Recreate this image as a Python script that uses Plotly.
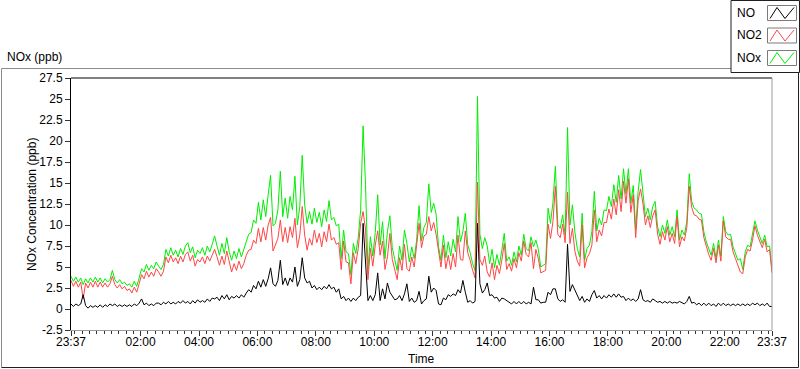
import pandas as pd
import plotly.graph_objects as go

# ---- data: 5-minute readings starting 23:37, one row per hour ----
nox = [
    3.9, 3.3, 3.8, 3.2, 3.7, 2.9, 3.6, 3.1, 3.7, 3.2, 3.8, 3.2,
    3.7, 3.1, 3.6, 3.2, 3.5, 4.6, 3.5, 3.1, 3.5, 3.0, 3.2, 2.8,
    3.0, 2.6, 3.3, 2.7, 3.7, 4.8, 4.4, 5.3, 4.6, 5.2, 4.8, 5.6,
    5.1, 4.7, 5.3, 7.1, 6.3, 7.3, 6.4, 7.0, 6.2, 7.2, 6.5, 7.5,
    7.9, 6.7, 7.4, 6.1, 7.0, 6.6, 7.3, 6.4, 7.5, 6.8, 7.7, 8.7,
    7.5, 6.4, 7.8, 6.6, 8.5, 6.8, 5.8, 6.9, 6.0, 7.2, 6.2, 7.0,
    8.0, 8.9, 9.1, 10.6, 10.2, 12.7, 10.6, 13.0, 11.0, 13.6, 15.9, 9.9,
    10.2, 11.8, 16.4, 11.0, 13.2, 10.8, 13.4, 11.8, 15.8, 10.0, 12.2, 18.3,
    12.4, 10.2, 11.6, 10.1, 12.0, 10.3, 11.5, 9.8, 11.8, 10.4, 12.9, 10.6,
    10.9, 9.9, 10.1, 6.0, 9.4, 6.8, 6.6, 4.1, 7.8, 6.6, 8.5, 11.8,
    21.8, 14.8, 4.7, 8.6, 6.3, 9.1, 13.6, 7.6, 10.4, 6.0, 9.2, 11.1,
    7.3, 5.9, 4.6, 7.5, 5.8, 9.4, 7.8, 5.6, 7.4, 6.0, 8.2, 12.3,
    8.1, 9.7, 10.3, 14.9, 11.5, 12.6, 11.3, 7.4, 5.8, 8.8, 6.1, 8.0,
    6.3, 8.3, 6.8, 11.0, 8.0, 9.2, 11.4, 7.6, 6.7, 5.4, 4.6, 25.3,
    8.9, 7.2, 8.5, 7.5, 5.4, 7.1, 4.9, 6.5, 5.2, 7.0, 9.0, 5.7,
    6.2, 5.2, 6.8, 5.6, 7.5, 6.4, 8.9, 7.2, 6.9, 8.6, 7.4, 8.2,
    7.1, 5.0, 5.2, 5.4, 12.0, 10.2, 12.7, 17.0, 10.0, 9.6, 11.2, 8.8,
    21.6, 10.0, 12.4, 9.2, 7.2, 6.2, 11.4, 5.8, 7.2, 7.6, 9.2, 14.0,
    9.3, 10.8, 10.0, 11.8, 11.7, 13.4, 12.2, 14.8, 12.7, 15.9, 13.1, 16.7,
    13.7, 16.7, 12.6, 14.7, 9.5, 14.0, 16.6, 13.7, 11.0, 12.0, 10.6, 12.2,
    12.8, 9.8, 8.6, 10.0, 9.0, 10.6, 8.8, 9.8, 8.6, 11.8, 8.2, 9.4,
    8.8, 10.4, 16.1, 12.8, 12.0, 11.8, 11.4, 11.3, 9.2, 8.0, 7.2, 6.4,
    7.8, 6.0, 8.2, 6.3, 11.0, 9.2, 8.8, 8.9, 7.4, 6.6, 5.8, 6.0,
    4.7, 6.8, 7.6, 7.4, 8.8, 10.5, 9.4, 8.6, 7.8, 8.8, 7.4, 7.5,
    4.6,
]
no2 = [
    3.4, 2.7, 3.3, 2.6, 3.2, 1.2, 3.1, 2.5, 3.2, 2.6, 3.3, 2.6,
    3.2, 2.6, 3.1, 2.6, 3.0, 3.9, 2.9, 2.5, 2.9, 2.4, 2.7, 2.2,
    2.4, 1.9, 2.6, 2.0, 3.0, 4.1, 3.6, 4.5, 3.8, 4.4, 3.9, 4.8,
    4.4, 3.9, 4.5, 6.2, 5.5, 6.4, 5.6, 6.1, 5.4, 6.3, 5.6, 6.5,
    6.8, 5.7, 6.4, 5.1, 5.9, 5.6, 6.2, 5.4, 6.3, 5.7, 6.4, 7.1,
    6.2, 5.2, 6.3, 5.3, 6.9, 5.5, 4.4, 5.4, 4.6, 5.7, 4.8, 5.4,
    6.4, 7.0, 7.1, 8.2, 7.8, 9.6, 8.0, 9.7, 8.2, 10.0, 10.9, 6.9,
    7.6, 8.4, 10.6, 8.0, 9.7, 7.9, 9.8, 8.5, 10.8, 7.3, 8.8, 12.2,
    8.8, 7.0, 8.4, 7.6, 9.4, 7.9, 9.0, 7.4, 9.2, 8.0, 10.1, 8.2,
    8.5, 7.7, 7.9, 4.7, 8.1, 5.6, 5.5, 3.0, 6.7, 5.4, 7.2, 10.2,
    11.6, 9.5, 3.5, 7.2, 5.1, 7.6, 9.3, 6.4, 8.1, 4.7, 6.2, 9.0,
    5.9, 4.6, 3.5, 6.1, 4.6, 7.7, 4.8, 4.5, 6.2, 5.0, 7.3, 10.2,
    7.3, 8.7, 8.9, 11.0, 9.3, 10.3, 8.9, 6.8, 5.0, 7.6, 4.8, 6.4,
    4.7, 6.6, 5.0, 8.8, 5.9, 5.8, 9.3, 6.7, 5.8, 4.6, 3.7, 15.1,
    5.9, 5.2, 6.3, 4.4, 3.8, 5.5, 3.5, 5.2, 4.2, 5.8, 7.8, 4.7,
    5.4, 4.5, 6.0, 4.9, 6.7, 5.7, 8.1, 6.5, 6.2, 7.9, 4.8, 7.1,
    6.0, 4.3, 4.5, 4.6, 10.1, 8.4, 10.4, 14.6, 8.9, 8.5, 10.1, 7.9,
    13.9, 7.8, 9.6, 6.9, 5.7, 5.1, 10.0, 4.9, 6.1, 6.6, 7.6, 11.8,
    8.0, 9.4, 8.7, 10.3, 10.3, 11.9, 10.7, 13.1, 11.2, 14.2, 11.6, 15.2,
    12.6, 15.5, 11.5, 13.6, 8.5, 12.9, 14.3, 12.5, 10.0, 11.1, 9.7, 11.1,
    11.8, 8.9, 7.7, 9.2, 8.2, 9.8, 8.0, 9.0, 7.8, 11.0, 7.4, 8.6,
    8.1, 9.7, 14.6, 12.1, 11.2, 11.1, 10.7, 10.6, 8.5, 7.4, 6.5, 5.8,
    7.2, 5.5, 7.6, 5.7, 10.5, 8.6, 8.3, 8.3, 6.8, 6.0, 5.2, 4.4,
    4.2, 6.2, 7.1, 6.9, 8.2, 9.9, 8.8, 8.1, 7.3, 8.3, 6.8, 7.1,
    4.3,
]
no = [
    0.6, 0.3, 0.6, 0.4, 0.6, 1.7, 0.4, 0.1, 0.4, 0.2, 0.4, 0.2,
    0.5, 0.2, 0.5, 0.3, 0.6, 0.4, 0.6, 0.3, 0.5, 0.3, 0.5, 0.3,
    0.5, 0.3, 0.6, 0.4, 0.7, 1.2, 0.5, 0.7, 0.4, 0.6, 0.4, 0.7,
    0.7, 0.5, 0.8, 0.6, 0.9, 0.6, 0.8, 0.6, 0.9, 0.7, 1.0, 0.7,
    0.9, 0.6, 1.0, 0.7, 1.1, 0.8, 1.0, 0.8, 1.2, 0.9, 1.3, 1.2,
    1.4, 1.0, 1.6, 1.2, 1.7, 1.1, 1.5, 1.3, 1.6, 1.3, 1.7, 1.4,
    1.9, 2.3, 2.0, 2.8, 2.4, 3.3, 2.6, 3.5, 2.7, 3.6, 4.9, 3.0,
    2.7, 3.4, 5.8, 2.9, 3.7, 2.8, 3.7, 3.2, 5.0, 2.7, 3.5, 6.1,
    3.7, 3.1, 3.3, 2.5, 2.8, 2.3, 2.6, 2.3, 2.7, 2.4, 2.9, 2.4,
    2.6, 2.0, 2.4, 1.2, 1.5, 1.0, 1.3, 0.9, 1.3, 1.0, 1.4, 1.6,
    10.2, 5.3, 1.0, 1.6, 1.0, 1.7, 4.3, 1.0, 2.4, 1.2, 3.1, 2.0,
    1.5, 1.1, 1.2, 1.6, 1.0, 1.8, 3.0, 0.9, 1.3, 0.8, 1.0, 2.1,
    0.6, 1.0, 1.2, 3.9, 2.0, 2.5, 2.2, 0.6, 0.5, 1.3, 1.1, 1.7,
    1.5, 1.8, 1.6, 2.3, 1.9, 3.4, 2.0, 0.8, 1.0, 0.7, 0.9, 10.2,
    3.0, 1.9, 2.3, 3.1, 1.6, 1.7, 1.3, 1.4, 0.9, 1.3, 1.2, 1.0,
    0.9, 0.6, 0.9, 0.6, 0.9, 0.6, 0.9, 0.6, 0.8, 0.6, 2.6, 1.1,
    1.1, 0.7, 0.8, 0.8, 2.0, 1.7, 2.4, 2.4, 1.2, 0.9, 1.1, 0.8,
    7.7, 2.1, 2.9, 2.2, 1.6, 1.0, 1.5, 0.8, 1.2, 0.9, 1.7, 2.2,
    1.3, 1.6, 1.2, 1.6, 1.3, 1.7, 1.4, 1.8, 1.4, 1.8, 1.4, 1.5,
    1.0, 1.3, 1.0, 1.2, 0.9, 1.2, 2.3, 1.1, 0.9, 1.0, 0.8, 1.2,
    1.0, 0.8, 0.9, 0.7, 0.9, 0.7, 0.9, 0.7, 0.8, 0.7, 0.9, 0.7,
    0.6, 0.9, 1.5, 0.7, 0.8, 0.5, 0.7, 0.4, 0.7, 0.4, 0.7, 0.4,
    0.6, 0.3, 0.7, 0.4, 0.7, 0.4, 0.6, 0.4, 0.6, 0.4, 0.6, 0.4,
    0.6, 0.4, 0.6, 0.4, 0.7, 0.5, 0.7, 0.4, 0.6, 0.4, 0.7, 0.3,
    0.3,
]
start_time = "2000-01-01 23:37"
end_time = "2000-01-02 23:37"
x_tick_vals = [start_time] + ["2000-01-02 %02d:00" % h for h in range(2, 23, 2)] + [end_time]
x_tick_text = ["23:37"] + ["%02d:00" % h for h in range(2, 23, 2)] + ["23:37"]
y_tick_vals = [27.5, 25, 22.5, 20, 17.5, 15, 12.5, 10, 7.5, 5, 2.5, 0, -2.5]
y_tick_text = ["27.5", "25", "22.5", "20", "17.5", "15", "12.5", "10", "7.5", "5", "2.5", "0", "-2.5"]
series_names = ["NO", "NO2", "NOx"]

times = pd.date_range(start_time, periods=len(nox), freq="5min")

# ---- geometry helpers (pixels -> paper) ----
W, H = 800, 369
ML, MR, MT, MB = 71, 28, 78, 39
PW, PH = W - ML - MR, H - MT - MB


def px(x):
    return (x - ML) / PW


def py(y):
    return (H - MB - y) / PH


FONT = "Liberation Sans"
GREEN = "#00ee00"
RED = "#ff4545"
BLACK = "#000000"

fig = go.Figure()
fig.add_trace(go.Scatter(x=times, y=nox, mode="lines", name=series_names[2],
                         line=dict(color=GREEN, width=1), showlegend=False))
fig.add_trace(go.Scatter(x=times, y=no2, mode="lines", name=series_names[1],
                         line=dict(color=RED, width=1), showlegend=False))
fig.add_trace(go.Scatter(x=times, y=no, mode="lines", name=series_names[0],
                         line=dict(color=BLACK, width=1), showlegend=False))

fig.update_layout(
    width=W, height=H, autosize=False,
    margin=dict(l=ML, r=MR, t=MT, b=MB, pad=0),
    paper_bgcolor="white", plot_bgcolor="white",
    font=dict(family=FONT, size=12, color="black"),
    showlegend=False,
)
fig.update_xaxes(
    range=[start_time, end_time], showgrid=False, zeroline=False,
    showline=True, linecolor="#9a9a9a", linewidth=1,
    tickmode="array", tickvals=x_tick_vals, ticktext=x_tick_text,
    ticks="outside", ticklen=5, tickcolor="#333333", tickwidth=1,
    ticklabelstandoff=-4,
    tickfont=dict(family=FONT, size=12, color="black"),
    minor=dict(tickmode="linear", tick0="2000-01-02 02:00", dtick=15 * 60 * 1000,
               ticks="outside", ticklen=3, tickcolor="#333333", showgrid=False),
)
fig.update_yaxes(
    range=[-2.5, 27.5], showgrid=False, zeroline=False,
    showline=True, linecolor="black", linewidth=1,
    tickmode="array", tickvals=y_tick_vals, ticktext=y_tick_text,
    ticks="outside", ticklen=5, tickcolor="#333333", tickwidth=1,
    tickfont=dict(family=FONT, size=12, color="black"),
)

shapes = []
# plot area top / right borders
shapes.append(dict(type="line", xref="paper", yref="paper", x0=0, x1=1, y0=1, y1=1,
                   line=dict(color="black", width=1)))
shapes.append(dict(type="line", xref="paper", yref="paper", x0=1, x1=1, y0=0, y1=1,
                   line=dict(color="#9a9a9a", width=1)))
# outer frame
shapes.append(dict(type="line", xref="paper", yref="paper", x0=px(1.5), x1=px(731), y0=py(68.5), y1=py(68.5),
                   line=dict(color="#8c8c8c", width=1)))
shapes.append(dict(type="line", xref="paper", yref="paper", x0=px(1.5), x1=px(1.5), y0=py(68.5), y1=py(367.5),
                   line=dict(color="#8c8c8c", width=1)))
shapes.append(dict(type="line", xref="paper", yref="paper", x0=px(1.5), x1=px(798.5), y0=py(367.5), y1=py(367.5),
                   line=dict(color="#202020", width=1)))
shapes.append(dict(type="line", xref="paper", yref="paper", x0=px(798.5), x1=px(798.5), y0=py(72), y1=py(367.5),
                   line=dict(color="#202020", width=1)))
# legend box
shapes.append(dict(type="rect", xref="paper", yref="paper", x0=px(731), x1=px(799.5), y0=py(72.5), y1=py(0.5),
                   line=dict(color="#202020", width=1), fillcolor="white"))

annotations = []
legend_rows = [(13, series_names[0], BLACK), (35.5, series_names[1], RED), (58, series_names[2], GREEN)]
for yc, name, col in legend_rows:
    annotations.append(dict(text=name, xref="paper", yref="paper", x=px(735), y=py(yc),
                            xanchor="left", yanchor="middle", showarrow=False,
                            font=dict(family=FONT, size=12, color="black")))
    top, bot = yc - 7.5, yc + 7.5
    shapes.append(dict(type="rect", xref="paper", yref="paper", x0=px(767.5), x1=px(796.5), y0=py(bot), y1=py(top),
                       line=dict(color="#7a7a7a", width=1), fillcolor="white"))
    pts = [(770, bot - 2), (777, top + 2), (785, bot - 2), (794, top + 2)]
    path = "M " + " L ".join("%f,%f" % (px(a), py(b)) for a, b in pts)
    shapes.append(dict(type="path", xref="paper", yref="paper", path=path,
                       line=dict(color=col, width=1)))

annotations.append(dict(text="NOx (ppb)", xref="paper", yref="paper", x=px(5), y=py(57),
                        xanchor="left", yanchor="middle", showarrow=False,
                        font=dict(family=FONT, size=12, color="black")))
annotations.append(dict(text="NOx Concentration (ppb)", xref="paper", yref="paper", x=px(32), y=py(205),
                        xanchor="center", yanchor="middle", textangle=-90, showarrow=False,
                        font=dict(family=FONT, size=12, color="black")))
annotations.append(dict(text="Time", xref="paper", yref="paper", x=px(421), y=py(359),
                        xanchor="center", yanchor="middle", showarrow=False,
                        font=dict(family=FONT, size=12, color="black")))

fig.update_layout(shapes=shapes, annotations=annotations)
fig.write_html("out.html", config={"displayModeBar": False},
               post_script="document.body.style.margin='0px';document.body.style.overflow='hidden';")
